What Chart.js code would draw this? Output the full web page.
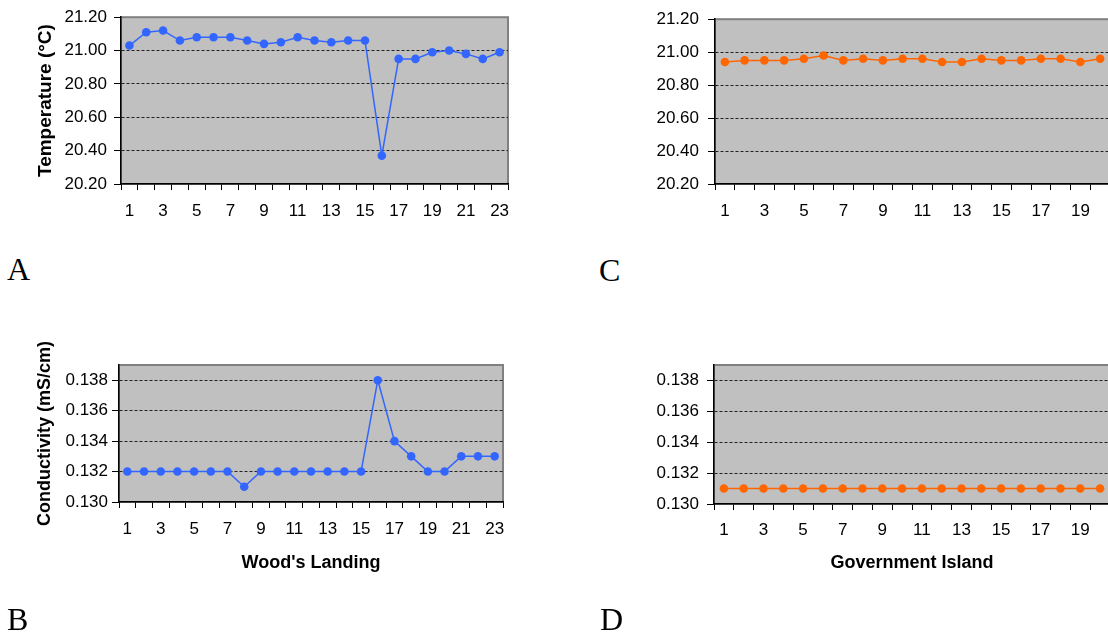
<!DOCTYPE html>
<html><head><meta charset="utf-8">
<script src="https://cdn.jsdelivr.net/npm/chart.js@4"></script>
<style>
html,body{margin:0;padding:0;width:1108px;height:634px;overflow:hidden;background:#fff;position:relative;}
canvas{position:absolute;}
.lt{position:absolute;font-family:'Liberation Serif','Times New Roman',serif;font-size:32px;line-height:32px;color:#000;}
</style></head><body>
<canvas id="cA" width="540" height="240" style="left:0;top:0"></canvas>
<canvas id="cC" width="540" height="240" style="left:580px;top:0"></canvas>
<canvas id="cB" width="540" height="294" style="left:0;top:340px"></canvas>
<canvas id="cD" width="540" height="294" style="left:580px;top:340px"></canvas>
<div class="lt" style="left:7px;top:253px">A</div>
<div class="lt" style="left:599px;top:254px">C</div>
<div class="lt" style="left:7px;top:603px">B</div>
<div class="lt" style="left:600px;top:603px">D</div>
<script>
const woodsSamples = ['1','2','3','4','5','6','7','8','9','10','11','12','13','14','15','16','17','18','19','20','21','22','23'];
const govSamples = ['1','2','3','4','5','6','7','8','9','10','11','12','13','14','15','16','17','18','19','20'];
const woodsTemperature = [21.03,21.11,21.12,21.06,21.08,21.08,21.08,21.06,21.04,21.05,21.08,21.06,21.05,21.06,21.06,20.37,20.95,20.95,20.99,21.00,20.98,20.95,20.99];
const govTemperature = [20.94,20.95,20.95,20.95,20.96,20.98,20.95,20.96,20.95,20.96,20.96,20.94,20.94,20.96,20.95,20.95,20.96,20.96,20.94,20.96];
const woodsConductivity = [0.132,0.132,0.132,0.132,0.132,0.132,0.132,0.131,0.132,0.132,0.132,0.132,0.132,0.132,0.132,0.138,0.134,0.133,0.132,0.132,0.133,0.133,0.133];
const govConductivity = [0.131,0.131,0.131,0.131,0.131,0.131,0.131,0.131,0.131,0.131,0.131,0.131,0.131,0.131,0.131,0.131,0.131,0.131,0.131,0.131];
const temperatureTicks = [20.2,20.4,20.6,20.8,21.0,21.2];
const conductivityTicks = [0.130,0.132,0.134,0.136,0.138];

Chart.defaults.font.family = "'Liberation Sans', Arial, sans-serif";
Chart.defaults.color = '#000';

const plotBg = {
  id: 'plotBg',
  beforeDraw(chart) {
    const ctx = chart.ctx, a = chart.chartArea;
    ctx.save();
    ctx.fillStyle = '#C0C0C0';
    ctx.fillRect(a.left, a.top, a.right - a.left, a.bottom - a.top);
    ctx.strokeStyle = '#808080';
    ctx.lineWidth = 2;
    ctx.strokeRect(a.left, a.top, a.right - a.left, a.bottom - a.top);
    ctx.restore();
  }
};

function makeChart(id, cfg) {
  const el = document.getElementById(id);
  const W = el.width, H = el.height, ar = cfg.area;
  return new Chart(el, {
    type: 'line',
    data: { labels: cfg.labels, datasets: [{
      data: cfg.values, borderColor: cfg.color, backgroundColor: cfg.color,
      pointBackgroundColor: cfg.color, pointBorderColor: cfg.color,
      pointRadius: 4.3, pointBorderWidth: 0, borderWidth: 1.5, tension: 0, clip: false
    }]},
    options: {
      responsive: false, animation: false, devicePixelRatio: 1,
      layout: { padding: { left: 0, top: ar.top, right: W - ar.right, bottom: 0 } },
      plugins: { legend: { display: false }, tooltip: { enabled: false } },
      scales: {
        x: {
          type: 'category', offset: true,
          grid: { offset: true, drawOnChartArea: false, drawTicks: true, tickLength: 6, tickColor: '#000', tickWidth: 1, color: '#000' },
          border: { display: true, color: '#000', width: 1.5 },
          ticks: { autoSkip: false, maxRotation: 0, minRotation: 0, padding: cfg.xPad, color: '#000', font: { size: 17 },
            callback: function(v, i) { return i % 2 === 0 ? this.getLabelForValue(v) : ''; } },
          title: cfg.xTitle ? { display: true, text: cfg.xTitle, color: '#000', font: { size: 18, weight: 'bold' }, padding: { top: 0, bottom: cfg.xTitlePad } } : { display: false },
          afterFit: s => { s.height = H - ar.bottom; }
        },
        y: {
          min: cfg.min, max: cfg.max,
          afterBuildTicks: s => { s.ticks = cfg.ticks.map(v => ({ value: v })); },
          grid: {
            color: c => (c.tick && (Math.abs(c.tick.value - cfg.min) < 1e-9 || Math.abs(c.tick.value - cfg.max) < 1e-9)) ? 'rgba(0,0,0,0)' : '#222',
            lineWidth: 1, tickLength: 7, tickColor: '#000', tickWidth: 1
          },
          border: { display: true, color: '#000', width: 1.5, dash: [3, 2] },
          ticks: { padding: cfg.yPad, color: '#000', font: { size: 17 }, callback: v => Number(v).toFixed(cfg.dec) },
          title: cfg.yTitle ? { display: true, text: cfg.yTitle, color: '#000', font: { size: cfg.yTitleSize || 18, weight: 'bold' }, padding: { top: 34, bottom: 0 } } : { display: false },
          afterFit: s => { s.width = ar.left; }
        }
      }
    },
    plugins: [plotBg]
  });
}

makeChart('cA', { labels: woodsSamples, values: woodsTemperature, color: '#3366FF', ticks: temperatureTicks, min: 20.2, max: 21.2, dec: 2,
  area: { left: 121, top: 12, right: 508, bottom: 184 }, xPad: 11, yPad: 7, yTitle: 'Temperature (°C)', yTitleSize: 19 });
makeChart('cC', { labels: govSamples, values: govTemperature, color: '#FF6600', ticks: temperatureTicks, min: 20.2, max: 21.2, dec: 2,
  area: { left: 135, top: 15, right: 530, bottom: 184 }, xPad: 11, yPad: 9 });
makeChart('cB', { labels: woodsSamples, values: woodsConductivity, color: '#3366FF', ticks: conductivityTicks, min: 0.130, max: 0.139, dec: 3,
  area: { left: 119, top: 25, right: 503, bottom: 162 }, xPad: 11, yPad: 4, yTitle: 'Conductivity (mS/cm)', yTitleSize: 18, xTitle: "Wood's Landing", xTitlePad: 60 });
makeChart('cD', { labels: govSamples, values: govConductivity, color: '#FF6600', ticks: conductivityTicks, min: 0.130, max: 0.139, dec: 3,
  area: { left: 134, top: 25, right: 530, bottom: 164 }, xPad: 10, yPad: 8, xTitle: 'Government Island', xTitlePad: 60 });
</script>
</body></html>
